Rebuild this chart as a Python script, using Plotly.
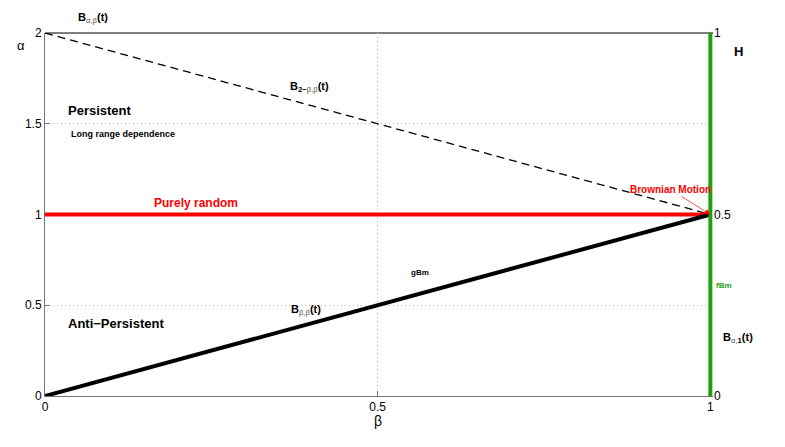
import plotly.graph_objects as go

# Data
beta_line = [0, 1]
alpha_dashed = [2, 1]      # B_{2-β,β}
alpha_random = [1, 1]      # purely random
alpha_diag = [0, 1]        # B_{β,β}
green_x = [1, 1]
green_y = [0, 2]
x_ticks = [0, 0.5, 1]
x_ticklabels = ["0", "0.5", "1"]
y_ticks = [0, 0.5, 1, 1.5, 2]
y_ticklabels = ["0", "0.5", "1", "1.5", "2"]
h_ticks = [0, 0.5, 1]
h_ticklabels = ["0", "0.5", "1"]

FONT = "Liberation Sans, Arial, sans-serif"
XMAX = 1.004
OFF = 8  # page body margin

fig = go.Figure()
fig.add_trace(go.Scatter(x=beta_line, y=alpha_dashed, mode="lines",
                         line=dict(color="black", width=1.3, dash="8px,5px"), showlegend=False))
fig.add_trace(go.Scatter(x=beta_line, y=alpha_random, mode="lines",
                         line=dict(color="#ff0000", width=4), showlegend=False))
fig.add_trace(go.Scatter(x=beta_line, y=alpha_diag, mode="lines",
                         line=dict(color="black", width=4), showlegend=False))
fig.add_trace(go.Scatter(x=green_x, y=green_y, mode="lines",
                         line=dict(color="#1fa00f", width=4), showlegend=False))
# invisible trace for right axis
fig.add_trace(go.Scatter(x=[1], y=[0.5], yaxis="y2", mode="markers",
                         marker=dict(opacity=0), showlegend=False, hoverinfo="skip"))

ann = []
def a(text, x, y, size, color="black", bold=True, xanchor="left", **kw):
    t = f"<b>{text}</b>" if bold else text
    ann.append(dict(text=t, x=x, y=y, xref="paper", yref="paper", showarrow=False,
                    xanchor=xanchor, yanchor="middle",
                    font=dict(size=size, color=color, family=FONT), **kw))

def sub(s):
    return f"<sub><span style='font-weight:normal;color:#555555'>{s}</span></sub>"

W, H = 785, 447
L, R, T, B = 45, 713, 33, 396
def px(xp): return (xp - L) / (R - L)
def py(yp): return (B - yp) / (B - T)

a("B" + sub("α,β") + "(t)", px(76), py(18), 11)
a("B" + "<sub>2−" + "<span style='font-weight:normal;color:#555555'>β,β</span></sub>(t)", px(288), py(87), 11)
a("Persistent", px(66), py(110), 13)
a("Long range dependence", px(69), py(134), 9)
a("Purely random", px(152), py(203), 12, color="#ff0000")
a("gBm", px(409), py(272), 8)
a("B" + sub("β,β") + "(t)", px(289), py(310), 11)
a("Anti−Persistent", px(66), py(323), 13)
a("fBm", px(714), py(285), 8, color="#1fa00f")
a("B<sub><span style='font-weight:normal;color:#555555'>α,</span>1</sub>(t)", px(721), py(338), 11)
a("H", px(732), py(52), 13)
a("α", px(15), py(45), 13, bold=False)
a("β", px(378), py(421), 14, bold=False, xanchor="center")

ann.append(dict(text="<b>Brownian Motion</b>", x=1, y=1, xref="x", yref="y",
                showarrow=True, arrowhead=2, arrowsize=1.6, arrowwidth=0.7, arrowcolor="#ff0000",
                ax=-40, ay=-25, font=dict(size=10, color="#ff0000", family=FONT)))

GRID = dict(showgrid=True, gridcolor="#bbbbbb", griddash="1px,3px", gridwidth=0.8)
fig.update_layout(
    width=W - OFF, height=H - OFF,
    margin=dict(l=L - OFF, r=W - R, t=T - OFF, b=H - B, pad=0),
    paper_bgcolor="white", plot_bgcolor="white",
    font=dict(family=FONT, size=12, color="black"),
    xaxis=dict(range=[0, XMAX], tickvals=x_ticks, ticktext=x_ticklabels, automargin=False,
               showline=True, linecolor="#777777", linewidth=1, layer="below traces",
               ticks="inside", ticklen=5, tickcolor="#777777", zeroline=False,
               tickfont=dict(size=12), **GRID),
    yaxis=dict(range=[0, 2], tickvals=y_ticks, ticktext=y_ticklabels, automargin=False,
               showline=True, linecolor="#777777", linewidth=1, layer="below traces",
               ticks="inside", ticklen=5, tickcolor="#777777", zeroline=False,
               tickfont=dict(size=12), **GRID),
    yaxis2=dict(range=[0, 1], overlaying="y", side="right", tickvals=h_ticks, automargin=False,
                ticktext=h_ticklabels, showgrid=False, zeroline=False,
                showline=False, ticks="", tickfont=dict(size=12)),
    annotations=ann,
    shapes=[dict(type="line", xref="paper", yref="paper", x0=0, x1=1, y0=1, y1=1,
                 layer="below", line=dict(color="black", width=1))],
)

fig.write_html("out.html")
